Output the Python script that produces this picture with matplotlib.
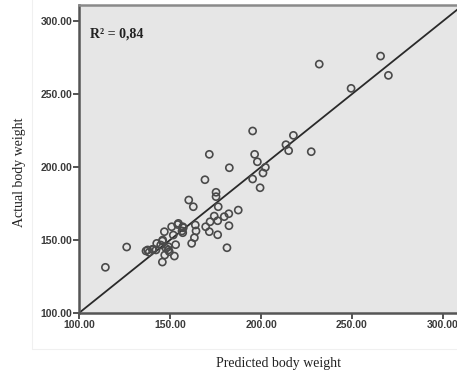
import matplotlib
matplotlib.use("Agg")
import matplotlib.pyplot as plt
from matplotlib.patches import Rectangle

# Data (predicted, actual)
predicted = [232.0, 265.7, 270.0, 249.5, 195.4, 217.8, 213.7, 215.2, 227.6, 171.6,
             196.5, 198.0, 182.6, 202.4, 201.1, 169.2, 195.4, 199.5, 175.3, 175.3,
             160.3, 162.8, 176.5, 187.5, 182.3, 174.3, 179.8, 176.2, 172.0, 182.4,
             169.6, 163.9, 164.3, 171.6, 176.2, 163.4, 161.9, 181.3, 157.0, 157.0,
             154.2, 150.9, 151.8, 146.9, 153.1, 152.4, 145.8, 142.7, 149.1, 149.1,
             147.1, 145.8, 140.8, 137.7, 138.5, 126.2, 114.5, 157.3, 144.9, 147.8,
             140.3, 136.8, 142.3, 149.6, 146.0, 154.6, 156.6]
actual = [270.5, 276.0, 262.8, 253.9, 224.7, 221.7, 215.3, 211.2, 210.5, 208.7,
          208.7, 203.6, 199.5, 199.8, 195.9, 191.3, 191.8, 185.8, 182.7, 179.7,
          177.4, 172.8, 172.8, 170.5, 168.0, 166.4, 166.0, 163.2, 162.5, 159.8,
          159.1, 160.3, 156.2, 155.7, 153.6, 151.6, 147.7, 144.7, 159.1, 155.0,
          160.6, 159.1, 153.4, 155.7, 146.8, 139.0, 149.3, 147.7, 145.4, 143.2,
          139.7, 134.9, 143.6, 143.2, 141.6, 145.2, 131.3, 158.4, 146.6, 144.3,
          143.6, 142.5, 143.2, 142.0, 150.0, 161.4, 156.2]
fit_line = [100, 320]
ticks = [100, 150, 200, 250, 300]
tick_labels = ["100.00", "150.00", "200.00", "250.00", "300.00"]
r2_text = "R² = 0,84"
xlabel = "Predicted body weight"
ylabel = "Actual body weight"

W, H = 457, 374
fig = plt.figure(figsize=(W / 100, H / 100), dpi=100)
fig.patch.set_facecolor("white")

# faint panel border
fig.patches.append(Rectangle((32 / W, 1 - 349 / H), 1.0, 1.0, transform=fig.transFigure,
                             fill=False, edgecolor="#f0f0f0", linewidth=0.8))

xmin, xmax = 100, 312
ymin, ymax = 100, 311
px_per_x = 1.82
left_px, bottom_px, top_px = 79, 313, 5
width_px = (xmax - xmin) * px_per_x
ax = fig.add_axes([left_px / W, 1 - bottom_px / H, width_px / W, (bottom_px - top_px) / H])
ax.set_facecolor("#e6e6e6")
ax.set_xlim(xmin, xmax)
ax.set_ylim(ymin, ymax)

ax.plot(fit_line, fit_line, color="#2a2a2a", linewidth=1.3, zorder=2)
ax.scatter(predicted, actual, s=26, facecolors="none", edgecolors="#4a4a4a",
           linewidths=1.2, zorder=3)

ax.set_xticks(ticks)
ax.set_xticklabels(tick_labels)
ax.set_yticks(ticks)
ax.set_yticklabels(tick_labels)
for lab in ax.get_xticklabels() + ax.get_yticklabels():
    lab.set_fontfamily("Liberation Sans")
    lab.set_fontweight("bold")
    lab.set_fontsize(7.5)
    lab.set_color("#3a3a3a")
ax.tick_params(direction="out", length=4, width=1.3, color="#444444", pad=1)

for side in ["left", "bottom"]:
    ax.spines[side].set_color("#555555")
    ax.spines[side].set_linewidth(1.8)
ax.spines["top"].set_color("#8a8a8a")
ax.spines["top"].set_linewidth(1.8)
ax.spines["right"].set_visible(False)

fig.text(90 / W, 1 - 34 / H, r2_text, family="Liberation Serif", fontweight="bold",
         fontsize=10, ha="left", va="center", color="#222222")
fig.text(278 / W, 1 - 363 / H, xlabel, family="Liberation Serif", fontsize=10,
         ha="center", va="center", color="#222222")
fig.text(20 / W, 1 - 172 / H, ylabel, family="Liberation Serif", fontsize=10,
         rotation=90, ha="center", va="center", color="#222222")

fig.savefig("out.png", dpi=100, facecolor="white")
